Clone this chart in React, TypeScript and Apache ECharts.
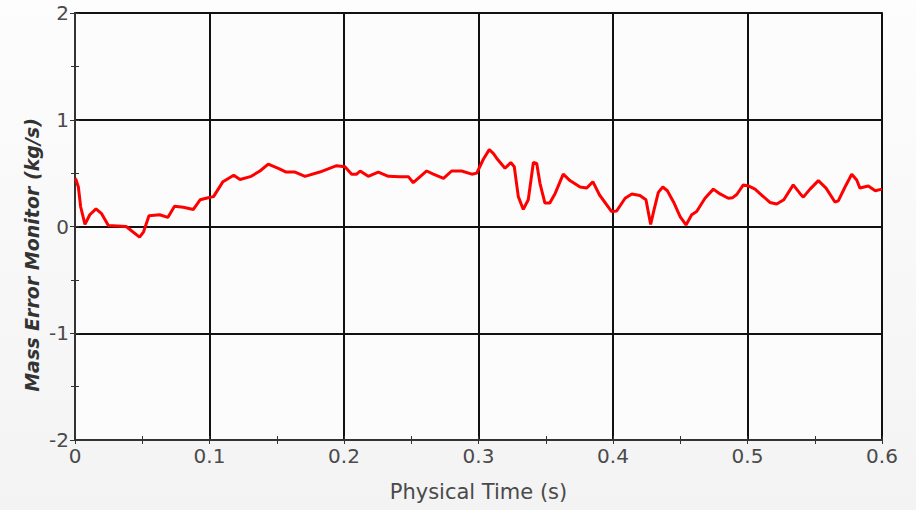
import React, { useEffect, useRef } from "react";
import * as echarts from "echarts";

const timeS = [
  0, 0.0007, 0.0025, 0.0042, 0.0074, 0.011, 0.0156, 0.0198, 0.0248, 0.038,
  0.048, 0.051, 0.055, 0.063, 0.069, 0.074, 0.0805, 0.088, 0.093, 0.099,
  0.103, 0.11, 0.118, 0.1227, 0.131, 0.1375, 0.1437, 0.152, 0.157, 0.1636,
  0.171, 0.182, 0.1945, 0.2007, 0.2057, 0.2094, 0.212, 0.218, 0.2255, 0.233,
  0.2416, 0.248, 0.2515, 0.2615, 0.2664, 0.274, 0.28, 0.2875, 0.295, 0.2987,
  0.3036, 0.308, 0.311, 0.3135, 0.3197, 0.324, 0.3266, 0.3296, 0.3333, 0.337,
  0.3408, 0.3433, 0.3457, 0.3494, 0.353, 0.357, 0.363, 0.368, 0.3755, 0.3805,
  0.385, 0.39, 0.399, 0.4027, 0.409, 0.414, 0.42, 0.4245, 0.428, 0.4305,
  0.4337, 0.437, 0.4404, 0.445, 0.45, 0.4543, 0.4585, 0.4622, 0.4684, 0.4746,
  0.4796, 0.4857, 0.489, 0.492, 0.4969, 0.5006, 0.5056, 0.5105, 0.5167, 0.5217,
  0.527, 0.534, 0.539, 0.5415, 0.5465, 0.5527, 0.5584, 0.565, 0.5675, 0.5725,
  0.5775, 0.5812, 0.5836, 0.5898, 0.595, 0.6,
];

const massError = [
  0.45, 0.44, 0.37, 0.185, 0.02, 0.11, 0.165, 0.12, 0.01, 0.0,
  -0.1, -0.05, 0.1, 0.11, 0.085, 0.19, 0.18, 0.16, 0.25, 0.27,
  0.28, 0.42, 0.48, 0.44, 0.47, 0.52, 0.585, 0.54, 0.51, 0.51,
  0.47, 0.51, 0.57, 0.56, 0.49, 0.49, 0.52, 0.47, 0.51, 0.47,
  0.465, 0.465, 0.41, 0.52, 0.49, 0.45, 0.52, 0.52, 0.49, 0.5,
  0.63, 0.72, 0.685, 0.64, 0.545, 0.6, 0.56, 0.28, 0.16, 0.25,
  0.6, 0.59, 0.405, 0.22, 0.22, 0.31, 0.49, 0.43, 0.37, 0.36,
  0.42, 0.295, 0.14, 0.145, 0.265, 0.305, 0.29, 0.25, 0.02, 0.155,
  0.32, 0.37, 0.335, 0.23, 0.09, 0.015, 0.11, 0.14, 0.265, 0.35,
  0.305, 0.265, 0.27, 0.3, 0.39, 0.38, 0.35, 0.295, 0.225, 0.21,
  0.25, 0.39, 0.31, 0.275, 0.35, 0.43, 0.36, 0.23, 0.24, 0.37,
  0.49, 0.435, 0.36, 0.38, 0.335, 0.35,
];

const xTicks = [0, 0.1, 0.2, 0.3, 0.4, 0.5, 0.6];
const yTicks = [-2, -1, 0, 1, 2];

const FONT = "DejaVu Sans";

export default function App() {
  const ref = useRef<HTMLDivElement>(null);

  useEffect(() => {
    if (!ref.current) return;
    const chart = echarts.init(ref.current, null, { renderer: "svg" });
    const data = timeS.map((t, i) => [t, massError[i]]);
    const xMin = xTicks[0];
    const xMax = xTicks[xTicks.length - 1];
    const yMin = yTicks[0];
    const yMax = yTicks[yTicks.length - 1];
    chart.setOption({
      animation: false,
      backgroundColor: {
        type: "linear",
        x: 0,
        y: 0,
        x2: 0,
        y2: 1,
        colorStops: [
          { offset: 0, color: "#fdfdfd" },
          { offset: 1, color: "#f3f3f3" },
        ],
      },
      grid: {
        left: 75,
        right: 34,
        top: 13,
        bottom: 70,
        show: true,
        backgroundColor: "#fcfcfc",
        borderColor: "#444",
        borderWidth: 2,
      },
      xAxis: [
        {
          type: "value",
          min: xMin,
          max: xMax,
          interval: 0.1,
          name: "Physical Time (s)",
          nameLocation: "middle",
          nameGap: 41,
          nameTextStyle: { fontFamily: FONT, fontSize: 21, color: "#4a4a4a" },
          axisLine: { onZero: false, lineStyle: { color: "#333", width: 2 } },
          axisTick: { show: true, length: 4, lineStyle: { color: "#333", width: 1 } },
          minorTick: { show: true, splitNumber: 2, length: 4, lineStyle: { color: "#333", width: 1 } },
          axisLabel: {
            fontFamily: FONT,
            fontSize: 20,
            color: "#4a4a4a",
            margin: 6,
            formatter: (v: number) => (Math.abs(v) < 1e-9 ? "0" : String(Math.round(v * 10) / 10)),
          },
          splitLine: { show: true, lineStyle: { color: "#111", width: 2 } },
        },
        {
          type: "value",
          position: "bottom",
          min: xMin,
          max: xMax,
          interval: 0.05,
          axisLine: { show: false, onZero: false },
          axisTick: { show: true, inside: true, length: 4, lineStyle: { color: "#333", width: 1 } },
          axisLabel: { show: false },
          splitLine: { show: false },
        },
      ],
      yAxis: [
        {
          type: "value",
          min: yMin,
          max: yMax,
          interval: 1,
          axisLine: { onZero: false, lineStyle: { color: "#333", width: 2 } },
          axisTick: { show: true, length: 5, lineStyle: { color: "#333", width: 1 } },
          minorTick: { show: true, splitNumber: 2, length: 4, lineStyle: { color: "#333", width: 1 } },
          axisLabel: {
            fontFamily: FONT,
            fontSize: 20,
            color: "#4a4a4a",
            margin: 6,
          },
          splitLine: { show: true, lineStyle: { color: "#111", width: 2 } },
        },
        {
          type: "value",
          position: "left",
          offset: 0,
          min: yMin,
          max: yMax,
          interval: 0.5,
          axisLine: { show: false, onZero: false },
          axisTick: { show: true, inside: true, length: 4, lineStyle: { color: "#333", width: 1 } },
          axisLabel: { show: false },
          splitLine: { show: false },
        },
      ],
      graphic: [
        {
          type: "text",
          x: 32,
          y: 255,
          rotation: Math.PI / 2,
          style: {
            text: "Mass Error Monitor (kg/s)",
            fontFamily: FONT,
            fontSize: 19,
            fontWeight: "bold",
            fontStyle: "italic",
            fill: "#333",
            align: "center",
            verticalAlign: "middle",
          },
        },
      ],
      series: [
        {
          type: "line",
          xAxisIndex: 0,
          yAxisIndex: 0,
          data,
          showSymbol: false,
          symbol: "none",
          lineStyle: { color: "#ff0000", width: 3 },
          z: 5,
        },
      ],
    });
    return () => chart.dispose();
  }, []);

  return (
    <div
      ref={ref}
      style={{ position: "fixed", left: 0, top: 0, width: 916, height: 510 }}
    />
  );
}
